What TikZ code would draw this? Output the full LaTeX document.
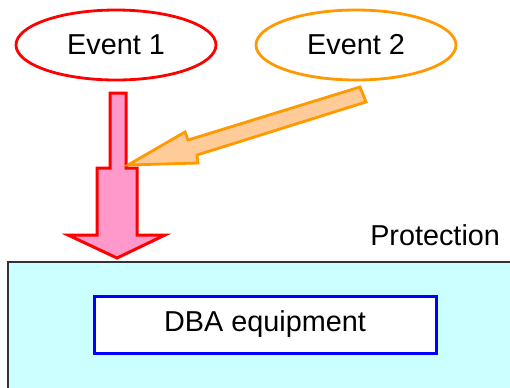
\documentclass[tikz,border=0pt]{standalone}
\usepackage{fontspec}
\setmainfont{Liberation Sans}
\usetikzlibrary{shapes.geometric}

\definecolor{pinkfill}{HTML}{FF99CC}
\definecolor{orangeline}{HTML}{FF9900}
\definecolor{orangefill}{HTML}{FFCC99}
\definecolor{protfill}{HTML}{CCFFFF}

\begin{document}
\begin{tikzpicture}[x=0.5pt,y=-0.5pt,
    event/.style={ellipse, draw, line width=1.4pt, fill=white,
        minimum width=100pt, minimum height=35pt,
        font=\fontsize{14.4}{16}\selectfont},
    label text/.style={font=\fontsize{14.4}{16}\selectfont}]

    \useasboundingbox (0,0) rectangle (510,387);

    % Protection area and equipment
    \draw[fill=protfill, draw=black!80, line width=0.8pt] (8,262) rectangle (530,400);
    \node[label text, anchor=base east] (prot) at (507,245) {Protection};
    \node[draw=blue, fill=white, line width=1.5pt, minimum width=171pt,
        minimum height=28.5pt, label text] (dba) at (265,324.5) {DBA equipment};

    % Events
    \node[event, draw=red] (ev1) at (116,45) {Event 1};
    \node[event, draw=orangeline] (ev2) at (356,45) {Event 2};

    % Block arrow from event 1 down to the protection
    \draw[fill=pinkfill, draw=red, line width=1.5pt, line join=miter]
        (110,93) -- (126,93) -- (126,168) -- (137,168) -- (137,235)
        -- (165,235) -- (117,258) -- (68,235) -- (97,235) -- (97,168)
        -- (110,168) -- cycle;

    % Block arrow from event 2 into the stem
    \draw[fill=orangefill, draw=orangeline, line width=1.4pt, line join=miter]
        (128,165) -- (185,132) -- (188,140) -- (360,87) -- (366,102)
        -- (197,155) -- (198,163) -- cycle;
\end{tikzpicture}
\end{document}
